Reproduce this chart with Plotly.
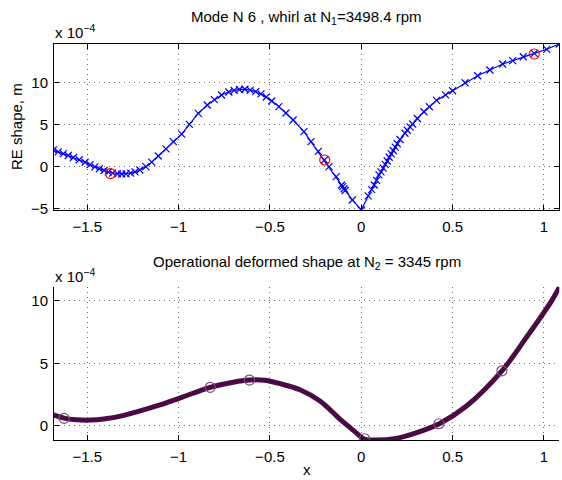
import plotly.graph_objects as go

# ---------------- data (displacements in units of 1e-4 m) ----------------
mode_x = [-1.686, -1.659, -1.631, -1.604, -1.576, -1.544, -1.512, -1.485, -1.458, -1.434,
          -1.408, -1.385, -1.361, -1.335, -1.311, -1.288, -1.262, -1.239, -1.212, -1.179,
          -1.147, -1.111, -1.069, -1.029, -0.983, -0.941, -0.892, -0.843, -0.804, -0.765,
          -0.725, -0.696, -0.667, -0.637, -0.608, -0.578, -0.549, -0.520, -0.490, -0.451,
          -0.412, -0.373, -0.314, -0.275, -0.235, -0.202, -0.176, -0.137, -0.108, -0.102,
          -0.094, -0.088, -0.049, 0.000,
          0.038, 0.057, 0.071, 0.084, 0.097, 0.108, 0.120, 0.131, 0.142, 0.153,
          0.164, 0.175, 0.186, 0.197, 0.212, 0.239, 0.252, 0.267, 0.281, 0.307,
          0.343, 0.373, 0.412, 0.461, 0.500, 0.568, 0.637, 0.704, 0.774, 0.829,
          0.887, 0.947, 1.015, 1.084]
mode_y = [1.96, 1.74, 1.52, 1.30, 1.07, 0.80, 0.50, 0.22, -0.05, -0.27,
          -0.48, -0.65, -0.78, -0.86, -0.89, -0.87, -0.79, -0.64, -0.42, -0.02,
          0.52, 1.25, 2.10, 2.95, 3.85, 5.00, 6.30, 7.30, 7.95, 8.49,
          8.85, 9.05, 9.15, 9.17, 9.08, 8.90, 8.62, 8.25, 7.78, 7.11,
          6.35, 5.52, 4.14, 2.95, 1.80, 0.77, -0.02, -1.21, -2.20, -2.40,
          -2.65, -2.85, -3.98, -5.17,
          -3.50, -2.75, -2.20, -1.65, -1.00, -0.65, -0.20, 0.25, 0.65, 1.10,
          1.50, 1.90, 2.30, 2.70, 3.20, 3.95, 4.30, 4.70, 5.05, 5.70,
          6.50, 7.10, 7.85, 8.50, 9.00, 9.95, 10.78, 11.46, 12.17, 12.57,
          13.04, 13.44, 13.92, 14.55]
mode_mark_x = [-1.373, -0.200, 0.947]
mode_mark_y = [-0.84, 0.77, 13.36]

ods_x = [-1.690, -1.627, -1.560, -1.485, -1.400, -1.300, -1.120, -0.990, -0.827, -0.700,
         -0.612, -0.529, -0.450, -0.336, -0.226, -0.117, -0.043, 0.016, 0.083, 0.180,
         0.300, 0.427, 0.576, 0.770, 0.900, 1.042, 1.090]
ods_y = [0.90, 0.63, 0.50, 0.47, 0.58, 0.85, 1.60, 2.25, 3.09, 3.50,
         3.67, 3.65, 3.40, 2.90, 2.00, 0.55, -0.35, -1.04, -1.12, -1.02,
         -0.55, 0.18, 1.60, 4.41, 7.00, 10.00, 11.25]
ods_mark_x = [-1.627, -0.827, -0.612, 0.018, 0.425, 0.770]
ods_mark_y = [0.61, 3.09, 3.67, -1.02, 0.18, 4.41]

x_ticks = [-1.5, -1, -0.5, 0, 0.5, 1]
x_tick_text = ["\u22121.5", "\u22121", "\u22120.5", "0", "0.5", "1"]
top_y_ticks = [-5, 0, 5, 10]
top_y_text = ["\u22125", "0", "5", "10"]
bot_y_ticks = [0, 5, 10]
bot_y_text = ["0", "5", "10"]

FONT = "Liberation Sans, Arial, Helvetica, sans-serif"
FS = 15
W, H = 562, 480
L, R = 54, 559.3
TOP1, BOT1 = 44, 210
TOP2, BOT2 = 286.7, 440

fig = go.Figure()
fig.add_trace(go.Scatter(x=mode_x, y=mode_y, mode="lines+markers",
                         line=dict(color="#0000ff", width=1.2),
                         marker=dict(symbol="x-thin-open", size=7,
                                     line=dict(color="#0000ff", width=1.2)),
                         xaxis="x", yaxis="y", showlegend=False))
fig.add_trace(go.Scatter(x=mode_mark_x, y=mode_mark_y, mode="markers",
                         marker=dict(symbol="circle-open", size=10,
                                     line=dict(color="#ff0000", width=1.2), color="#ff0000"),
                         xaxis="x", yaxis="y", showlegend=False))
fig.add_trace(go.Scatter(x=ods_x, y=ods_y, mode="lines",
                         line=dict(color="#4a0a46", width=5, shape="spline", smoothing=1.0),
                         xaxis="x2", yaxis="y2", showlegend=False))
fig.add_trace(go.Scatter(x=ods_mark_x, y=ods_mark_y, mode="markers",
                         marker=dict(symbol="circle-open", size=10,
                                     line=dict(color="#7a4a78", width=1.2), color="#7a4a78"),
                         xaxis="x2", yaxis="y2", showlegend=False))

xdom = [L / W, R / W]
ax_common = dict(showgrid=True, griddash="1px,4px", gridcolor="#6e6e6e", gridwidth=1,
                 zeroline=False, showline=True, linecolor="black", linewidth=1,
                 ticks="inside", ticklen=5, tickcolor="black", automargin=False,
                 tickfont=dict(family=FONT, size=FS, color="black"))
fig.update_layout(
    width=W, height=H, margin=dict(l=0, r=0, t=0, b=0),
    paper_bgcolor="white", plot_bgcolor="white",
    xaxis=dict(domain=xdom, range=[-1.682, 1.084], tickvals=x_ticks, ticktext=x_tick_text,
               anchor="y", mirror="ticks", ticklabelstandoff=3, **ax_common),
    yaxis=dict(domain=[1 - BOT1 / H, 1 - TOP1 / H], range=[-5.17, 14.55],
               tickvals=top_y_ticks, ticktext=top_y_text, anchor="x", mirror="ticks",
               ticklabelstandoff=2, **ax_common),
    xaxis2=dict(domain=xdom, range=[-1.682, 1.084], tickvals=x_ticks, ticktext=x_tick_text,
                anchor="y2", mirror=False, ticklabelstandoff=3, **ax_common),
    yaxis2=dict(domain=[1 - BOT2 / H, 1 - TOP2 / H], range=[-1.12, 11.13],
                tickvals=bot_y_ticks, ticktext=bot_y_text, anchor="x2", mirror=False,
                ticklabelstandoff=2, **ax_common),
)

def px(xp):
    return xp / W

def py(yp):
    return 1 - yp / H

anns = [
    dict(text="Mode N 6 , whirl at N<sub>1</sub>=3498.4 rpm", x=px((L + R) / 2), y=py(18)),
    dict(text="Operational deformed shape at N<sub>2</sub> = 3345 rpm", x=px((L + R) / 2), y=py(262)),
    dict(text="x 10<sup>\u22124</sup>", x=px(53), y=py(32), xanchor="left"),
    dict(text="x 10<sup>\u22124</sup>", x=px(53), y=py(275), xanchor="left"),
    dict(text="RE shape, m", x=px(16), y=py(127), textangle=-90),
    dict(text="x", x=px((L + R) / 2), y=py(469)),
]
for a in anns:
    base = dict(xref="paper", yref="paper", showarrow=False, xanchor="center", yanchor="middle",
                font=dict(family=FONT, size=FS, color="black"))
    base.update(a)
    fig.add_annotation(**base)

fig.write_html("out.html", config={"displayModeBar": False},
               post_script="document.body.style.margin='0';document.body.style.padding='0';")
